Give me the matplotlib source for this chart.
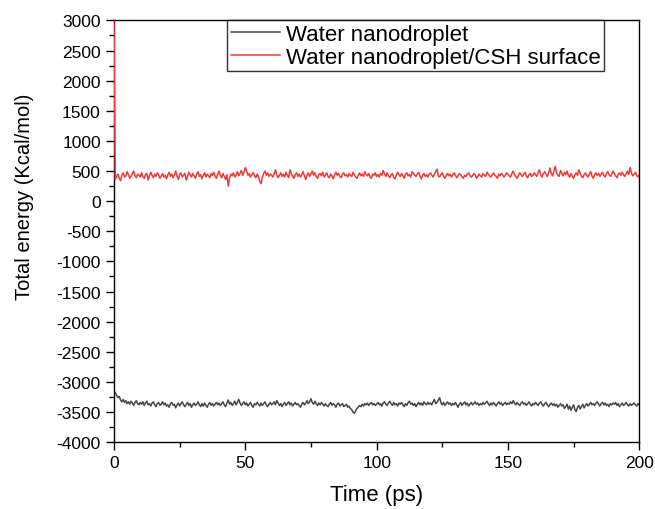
import numpy as np
import matplotlib
matplotlib.use("Agg")
import matplotlib.pyplot as plt
from matplotlib.ticker import MultipleLocator

plt.rcParams['font.family'] = ['Liberation Sans', 'DejaVu Sans']
plt.rcParams['axes.unicode_minus'] = False

# time axis, 0.5 ps sampling
time_ps = np.arange(0, 200.25, 0.5)

# total energy, water nanodroplet on CSH surface (Kcal/mol)
# first frame sits at the top of the plotted range
energy_csh = [
    3100,
    360, 410, 450, 380, 340, 430, 470, 400, 420, 490, 440, 380, 410, 460, 500, 420, 390, 450, 430, 400,
    470, 410, 380, 440, 460, 350, 420, 480, 430, 390, 450, 410, 470, 440, 380, 420, 460, 400, 430, 370,
    440, 480, 410, 450, 390, 430, 500, 420, 360, 440, 470, 400, 430, 460, 350, 410, 480, 440, 400, 460,
    420, 380, 450, 490, 410, 440, 370, 430, 470, 400, 450, 420, 390, 460, 430, 480, 410, 380, 440, 500,
    430, 390, 460, 410, 360, 440, 250, 380, 450, 420, 470, 400, 440, 490, 420, 460, 510, 430, 480, 560,
    500, 430, 460, 400, 440, 480, 420, 390, 450, 410, 330, 290, 400, 460, 500, 430, 470, 410, 450, 430,
    400, 460, 520, 440, 390, 430, 470, 410, 450, 400, 480, 430, 390, 520, 460, 420, 380, 440, 470, 410,
    450, 400, 440, 490, 420, 360, 430, 470, 410, 450, 500, 430, 470, 410, 380, 440, 460, 420, 480, 400,
    430, 470, 410, 390, 450, 420, 370, 440, 480, 430, 460, 410, 390, 450, 470, 420, 440, 400, 460, 430,
    410, 480, 440, 400, 380, 430, 470, 420, 450, 410, 490, 440, 420, 460, 400, 380, 450, 430, 470, 410,
    440, 400, 460, 430, 510, 450, 410, 470, 420, 390, 440, 460, 400, 370, 430, 480, 440, 410, 460, 420,
    380, 450, 470, 420, 440, 400, 490, 460, 430, 410, 450, 480, 420, 370, 430, 460, 410, 440, 400, 450,
    470, 430, 400, 450, 490, 530, 420, 400, 440, 470, 410, 380, 430, 460, 420, 450, 400, 440, 470, 430,
    390, 420, 460, 440, 400, 380, 430, 410, 450, 470, 430, 400, 420, 460, 440, 380, 410, 450, 420, 400,
    460, 430, 410, 480, 450, 420, 400, 440, 470, 430, 410, 380, 450, 420, 460, 440, 400, 430, 470, 450,
    420, 400, 460, 500, 440, 410, 380, 430, 470, 440, 410, 450, 480, 420, 390, 440, 460, 410, 430, 470,
    440, 410, 480, 520, 430, 400, 460, 490, 440, 410, 470, 550, 460, 420, 500, 580, 470, 430, 410, 510,
    460, 420, 480, 440, 500, 430, 400, 460, 410, 380, 440, 470, 430, 520, 460, 410, 390, 440, 470, 430,
    400, 450, 490, 420, 380, 440, 470, 430, 460, 410, 450, 480, 430, 400, 460, 490, 440, 410, 450, 500,
    460, 420, 390, 450, 470, 430, 480, 440, 410, 460, 500, 440, 560, 470, 420, 450, 480, 430, 400, 440,
]

# total energy, free water nanodroplet (Kcal/mol)
energy_water = [
    -3150,
    -3180, -3220, -3260, -3240, -3300, -3330, -3290, -3340, -3310, -3360, -3330, -3370, -3320, -3350, -3390, -3340, -3310, -3360, -3380, -3340,
    -3370, -3330, -3390, -3350, -3320, -3380, -3360, -3400, -3350, -3330, -3380, -3410, -3360, -3340, -3390, -3370, -3330, -3380, -3350, -3400,
    -3380, -3420, -3360, -3340, -3390, -3370, -3430, -3380, -3350, -3400, -3360, -3330, -3380, -3410, -3370, -3340, -3390, -3360, -3420, -3380,
    -3350, -3390, -3370, -3330, -3380, -3410, -3360, -3400, -3350, -3390, -3420, -3370, -3340, -3390, -3360, -3400, -3370, -3340, -3380, -3350,
    -3390, -3360, -3330, -3380, -3410, -3350, -3300, -3370, -3340, -3390, -3360, -3320, -3380, -3340, -3290, -3350, -3390, -3360, -3330, -3380,
    -3350, -3400, -3370, -3340, -3390, -3420, -3360, -3380, -3340, -3370, -3400, -3350, -3390, -3360, -3330, -3380, -3410, -3370, -3340, -3380,
    -3360, -3330, -3380, -3310, -3350, -3390, -3360, -3410, -3370, -3340, -3390, -3360, -3330, -3380, -3350, -3400, -3370, -3340, -3380, -3360,
    -3390, -3420, -3370, -3340, -3380, -3350, -3310, -3360, -3330, -3280, -3340, -3370, -3320, -3360, -3390, -3350, -3380, -3340, -3370, -3400,
    -3360, -3390, -3410, -3370, -3340, -3390, -3360, -3380, -3420, -3370, -3350, -3400, -3380, -3360, -3410, -3390, -3370, -3420, -3400, -3440,
    -3460, -3500, -3520, -3480, -3440, -3420, -3390, -3410, -3370, -3400, -3360, -3380, -3350, -3390, -3360, -3340, -3380, -3360, -3390, -3370,
    -3340, -3380, -3360, -3400, -3350, -3330, -3370, -3390, -3350, -3320, -3360, -3390, -3340, -3380, -3360, -3400, -3350, -3370, -3340, -3380,
    -3410, -3360, -3390, -3340, -3320, -3370, -3350, -3390, -3360, -3410, -3370, -3340, -3380, -3350, -3390, -3330, -3360, -3380, -3340, -3370,
    -3350, -3380, -3330, -3290, -3360, -3340, -3300, -3260, -3350, -3380, -3340, -3390, -3360, -3330, -3370, -3350, -3390, -3360, -3380, -3340,
    -3380, -3420, -3370, -3340, -3390, -3360, -3330, -3380, -3350, -3400, -3370, -3340, -3380, -3360, -3330, -3370, -3350, -3390, -3360, -3380,
    -3340, -3370, -3350, -3320, -3360, -3390, -3350, -3380, -3340, -3370, -3400, -3360, -3330, -3370, -3350, -3390, -3360, -3340, -3380, -3350,
    -3370, -3330, -3360, -3310, -3350, -3380, -3340, -3370, -3390, -3350, -3330, -3370, -3350, -3390, -3360, -3330, -3370, -3400, -3360, -3380,
    -3340, -3370, -3390, -3350, -3330, -3370, -3400, -3360, -3340, -3380, -3410, -3370, -3350, -3390, -3360, -3400, -3370, -3420, -3390, -3360,
    -3400, -3380, -3440, -3410, -3370, -3450, -3400, -3470, -3420, -3380, -3460, -3490, -3420, -3390, -3450, -3410, -3370, -3430, -3390, -3360,
    -3400, -3370, -3340, -3380, -3360, -3390, -3350, -3330, -3370, -3400, -3360, -3340, -3380, -3350, -3390, -3370, -3410, -3360, -3380, -3350,
    -3370, -3340, -3390, -3360, -3410, -3380, -3350, -3390, -3370, -3340, -3380, -3400, -3360, -3390, -3370, -3350, -3380, -3400, -3360, -3380,
]

labels = ['Water nanodroplet', 'Water nanodroplet/CSH surface']

fig = plt.figure(figsize=(6.55, 5.10), dpi=100)
ax = fig.add_axes([0.174, 0.131, 0.802, 0.827])

ax.plot(time_ps, energy_water, color='#474747', lw=1.1, label=labels[0])
ax.plot(time_ps, energy_csh, color='#ef3a3a', lw=1.1, label=labels[1], zorder=3)

ax.set_xlim(0, 200)
ax.set_ylim(-4000, 3000)
ax.xaxis.set_major_locator(MultipleLocator(50))
ax.xaxis.set_minor_locator(MultipleLocator(25))
ax.yaxis.set_major_locator(MultipleLocator(500))
ax.yaxis.set_minor_locator(MultipleLocator(250))
ax.tick_params(which='major', direction='out', length=6, width=1, labelsize=12.5, colors='black')
ax.tick_params(which='minor', direction='out', length=3.5, width=1)
for s in ax.spines.values():
    s.set_linewidth(1.0)

ax.set_xlabel('Time (ps)', fontsize=16)
ax.set_ylabel('Total energy (Kcal/mol)', fontsize=14.5)
ax.xaxis.set_label_coords(0.5, -0.1)
ax.yaxis.set_label_coords(-0.152, 0.584)

leg = ax.legend(loc='upper left', bbox_to_anchor=(0.216, 1.0), borderaxespad=0,
                fontsize=16, frameon=True, fancybox=False, handlelength=2.2,
                handletextpad=0.3, borderpad=0.15, labelspacing=0.1)
leg.get_frame().set_edgecolor('black')
leg.get_frame().set_linewidth(1.0)

fig.savefig('out.png', dpi=100)
